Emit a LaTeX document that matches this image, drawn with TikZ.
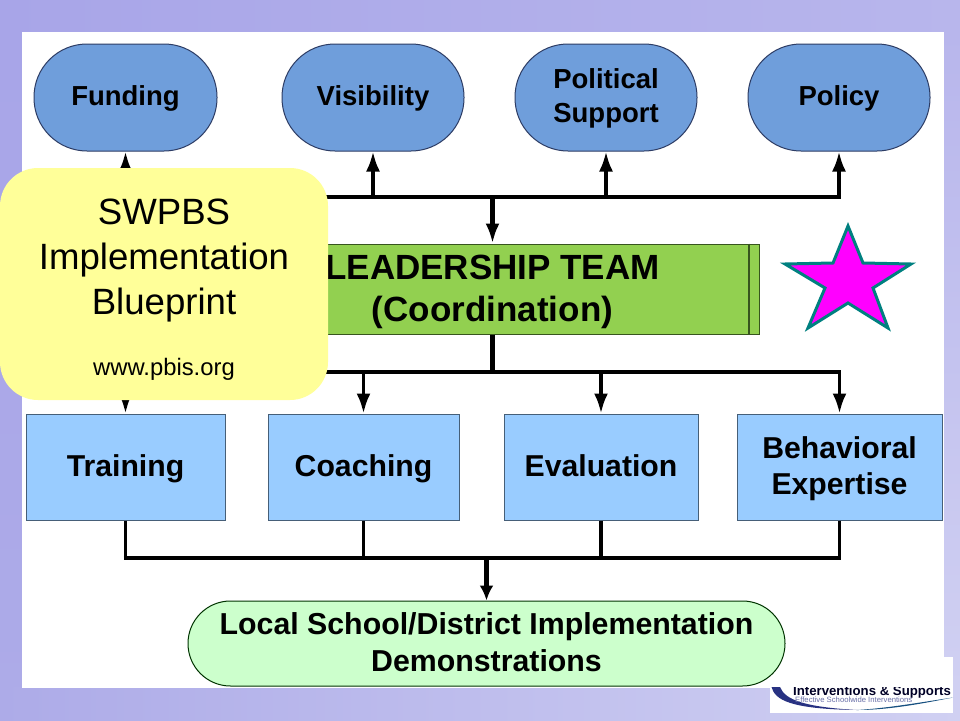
\documentclass[tikz,border=0pt]{standalone}
\usepackage{fontspec}
\setmainfont{Liberation Sans}
\usetikzlibrary{arrows.meta,calc}
\definecolor{bgTL}{RGB}{168,165,232}
\definecolor{bgTR}{RGB}{184,182,236}
\definecolor{bgBL}{RGB}{173,171,232}
\definecolor{bgBR}{RGB}{208,208,242}
\definecolor{topblue}{RGB}{111,158,219}
\definecolor{lowblue}{RGB}{153,204,255}
\definecolor{teamgreen}{RGB}{146,208,80}
\definecolor{demogreen}{RGB}{204,255,204}
\definecolor{noteyellow}{RGB}{255,255,153}
\definecolor{startl}{RGB}{0,128,128}
\definecolor{starfill}{RGB}{255,0,255}
\definecolor{logoblue}{RGB}{40,50,130}
\definecolor{lineblue}{RGB}{45,60,100}
\definecolor{boxline}{RGB}{70,95,120}
\definecolor{teamline}{RGB}{55,85,30}
\newcommand{\goalstrut}{\rule[-.36em]{0pt}{1.28em}}
\newcommand{\boxstrut}{\rule[-.33em]{0pt}{1.27em}}
\tikzset{
  x=1pt,y=-1pt,
  conn/.style={line width=3.5pt,draw=black,line cap=butt,-{Latex[length=20pt,width=14pt]}},
  mainconn/.style={line width=5pt,draw=black,line cap=butt,-{Latex[length=20pt,width=14pt]}},
  bar/.style={line width=3.5pt,draw=black,line cap=butt},
  busline/.style={line width=4.3pt,draw=black,line cap=butt,shorten <=-1.75pt,shorten >=-1.75pt},
  goal/.style={draw=lineblue,line width=1pt,fill=topblue,rounded corners=53pt,inner sep=0pt,align=center,font=\fontsize{27.5}{34}\selectfont\bfseries},
  supportbox/.style={draw=boxline,line width=1pt,fill=lowblue,inner sep=0pt,align=center,font=\fontsize{30.2}{36}\selectfont\bfseries},
}
\begin{document}
\begin{tikzpicture}
\useasboundingbox (0,0) rectangle (960,720);
\shade[left color=bgTL,right color=bgTR] (0,0) rectangle (960,33);
\shade[top color=bgTL,bottom color=bgBL] (0,32) rectangle (23,720);
\shade[left color=bgBL,right color=bgBR] (0,687) rectangle (960,720);
\shade[top color=bgTR,bottom color=bgBR] (943,32) rectangle (960,688);
\fill[white] (22,32) rectangle (944,688);
% logo
\fill[white] (770,657) rectangle (953,713);
\begin{scope}
\clip (770,687) rectangle (953,713);
\fill[logoblue] (771.5,687) .. controls (775,700) and (790,709) .. (857,710) .. controls (805,707) and (785,700) .. (780,687) -- cycle;
\fill[logoblue!60!teal] (857,710) .. controls (890,710) and (925,703) .. (953,697.5) .. controls (925,701.5) and (890,708) .. (857,710) -- cycle;
\node[anchor=base west,inner sep=0pt,font=\fontsize{13.2}{15}\selectfont\bfseries,text=black!85!blue] (logotext) at (793,695.5) {Interventions \& Supports};
\end{scope}
\node[anchor=base west,inner sep=0pt,font=\fontsize{7.7}{9}\selectfont,text=logoblue!70] (logosub) at (795,702) {Effective Schoolwide Interventions};
% nodes
\node[goal,minimum width=183pt,minimum height=107pt] (fund) at (125.5,97.5) {\goalstrut Funding};
\node[goal,minimum width=182pt,minimum height=107pt] (vis) at (373,97.5) {\goalstrut Visibility};
\node[goal,minimum width=182pt,minimum height=107pt] (pol) at (606,97.5) {\rule{0pt}{.80em}Political\\Support};
\node[goal,minimum width=182pt,minimum height=107pt] (policy) at (839,97.5) {\goalstrut Policy};
\node[draw=teamline,line width=1pt,fill=teamgreen,minimum width=534pt,minimum height=90pt,inner sep=0pt,align=center,font=\fontsize{35}{42.5}\selectfont\bfseries] (team) at (492.5,289) {\rule{0pt}{.87em}LEADERSHIP TEAM\\(Coordination)};
\draw[teamline,line width=1.5pt] ($(team.north east)+(-11,0)$) -- ($(team.south east)+(-11,0)$);
\draw[teamline,line width=1.5pt] ($(team.north west)+(11,0)$) -- ($(team.south west)+(11,0)$);
\node[supportbox,minimum width=199pt,minimum height=106pt] (train) at (125.5,467) {\boxstrut Training};
\node[supportbox,minimum width=191pt,minimum height=106pt] (coach) at (363.5,467) {\boxstrut Coaching};
\node[supportbox,minimum width=194pt,minimum height=106pt] (eval) at (601,467) {\boxstrut Evaluation};
\node[supportbox,minimum width=205pt,minimum height=106pt] (behav) at (839.5,467) {\rule{0pt}{.93em}Behavioral\\\rule[-.33em]{0pt}{.33em}Expertise};
\node[draw=black!80!green,line width=1pt,fill=demogreen,rounded corners=42.5pt,minimum width=597pt,minimum height=85pt,inner sep=0pt,align=center,font=\fontsize{30.3}{37}\selectfont\bfseries] (demo) at (486.5,643.5) {Local School/District Implementation\\\rule[-.1em]{0pt}{.1em}Demonstrations};
% connectors
\coordinate (topbus) at (492.5,197);
\coordinate (lowbus) at (492.5,372);
\coordinate (botbus) at (486.5,558);
\draw[conn] (topbus) -| (fund.south);
\draw[conn] (topbus) -| (vis.south);
\draw[conn] (topbus) -| (pol.south);
\draw[conn] (topbus) -| (policy.south);
\draw[busline] (fund.south |- topbus) -- (policy.south |- topbus);
\draw[mainconn] (topbus) -- (team.north);
\draw[mainconn,-] (team.south) -- (lowbus);
\draw[conn] (lowbus) -| (train.north);
\draw[conn] (lowbus) -| (coach.north);
\draw[conn] (lowbus) -| (eval.north);
\draw[conn] (lowbus) -| (behav.north);
\draw[busline] (train.north |- lowbus) -- (behav.north |- lowbus);
\draw[bar] (train.south) |- (botbus);
\draw[bar] (coach.south) |- (botbus);
\draw[bar] (eval.south) |- (botbus);
\draw[bar] (behav.south) |- (botbus);
\draw[busline] (train.south |- botbus) -- (behav.south |- botbus);
\draw[mainconn,-{Latex[length=15pt,width=14pt]}] (botbus) -- (demo.north);
% star
\filldraw[fill=starfill,draw=startl,line width=3pt,line join=miter,miter limit=10]
 (848,226) -- (863,263) -- (911,264) -- (873,288) -- (888,328) -- (848,303) -- (808,328) -- (825,288) -- (785,264) -- (833,263) -- cycle;
% note
\node[fill=noteyellow,rounded corners=38pt,minimum width=328pt,minimum height=232pt,inner sep=0pt] (note) at (164,284) {};
\node[inner sep=0pt,align=center,font=\fontsize{36.6}{45}\selectfont,anchor=north] (notetext) at (164,198.5) {SWPBS\\Implementation\\Blueprint};
\node[inner sep=0pt,font=\fontsize{23.8}{28}\selectfont,anchor=base] (noteurl) at (164,375) {www.pbis.org};
\end{tikzpicture}
\end{document}
